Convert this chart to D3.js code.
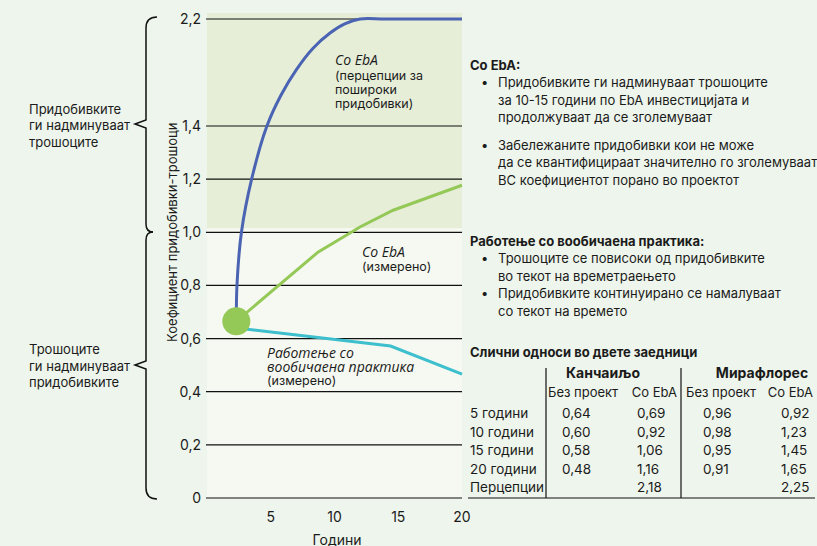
<!DOCTYPE html>
<html>
<head>
<meta charset="utf-8">
<script src="https://cdn.jsdelivr.net/npm/d3@7"></script>
<style>
  body { margin: 0; background: #eef5ec; }
  svg { display: block; font-family: Inter, "Noto Sans", sans-serif; }
  text { fill: #1b1b1b; }
  .it { font-family: "Open Sans", sans-serif; font-style: italic; }
  .b { font-weight: 700; }
</style>
</head>
<body>
<div id="chart"></div>
<script>
// data
var yTicks = [0, 0.2, 0.4, 0.6, 0.8, 1.0, 1.2, 1.4, 2.2];
var xTicks = [5, 10, 15, 20];

var startYear = 2.3, startRatio = 0.665;

var perceivedYears = [2.3, 2.35, 2.7, 3.5, 4.7, 5.8, 7.0, 8.3, 9.65, 10.8, 12, 14, 20];
var perceivedRatio = [0.67, 0.8, 1.0, 1.2, 1.4, 1.63, 1.82, 1.98, 2.095, 2.163, 2.2, 2.2, 2.2];

var measuredYears = [2.3, 8.7, 12, 14.6, 20];
var measuredRatio = [0.665, 0.925, 1.02, 1.083, 1.177];

var bauYears = [2.3, 14.4, 20];
var bauRatio = [0.64, 0.572, 0.466];

var tableRows = ["5 години", "10 години", "15 години", "20 години", "Перцепции"];
var kanchNoProject = ["0,64", "0,60", "0,58", "0,48", ""];
var kanchEba = ["0,69", "0,92", "1,06", "1,16", "2,18"];
var miraNoProject = ["0,96", "0,98", "0,95", "0,91", ""];
var miraEba = ["0,92", "1,23", "1,45", "1,65", "2,25"];

var ebaNotes = [
  ["Придобивките ги надминуваат трошоците", "за 10-15 години по EbA инвестицијата и", "продолжуваат да се зголемуваат"],
  ["Забележаните придобивки кои не може", "да се квантифицираат значително го зголемуваат", "BC коефициентот порано во проектот"]
];
var bauNotes = [
  ["Трошоците се повисоки од придобивките", "во текот на времетраењето"],
  ["Придобивките континуирано се намалуваат", "со текот на времето"]
];

var width = 817, height = 546;

var svg = d3.select("#chart").append("svg")
    .attr("width", width)
    .attr("height", height);

// broken y axis: 0-1.4 linear, then 1.4-2.2 squeezed
var y = d3.scaleLinear().domain([0, 1.4, 2.2]).range([498, 126, 19]);
var x = d3.scaleLinear().domain([0, 20]).range([207, 462]);

var fmt = function(d) { return d === 0 ? "0" : d3.format(".1f")(d).replace(".", ","); };

// background bands
svg.append("rect")
    .attr("x", x(0)).attr("y", 13)
    .attr("width", x(20) - x(0)).attr("height", y(1.0) - 4 - 13)
    .style("fill", "#e6eed8");
svg.append("rect")
    .attr("x", x(0)).attr("y", y(1.0) - 4)
    .attr("width", x(20) - x(0)).attr("height", y(0) - y(1.0) + 4)
    .style("fill", "#f6f9f1");

// grid
svg.selectAll(".grid")
    .data(yTicks)
    .enter().append("line")
    .attr("class", "grid")
    .attr("x1", x(0) - 1).attr("x2", x(20))
    .attr("y1", function(d) { return y(d); })
    .attr("y2", function(d) { return y(d); })
    .style("stroke", "#111").style("stroke-width", 1.2);

svg.selectAll(".yLabel")
    .data(yTicks)
    .enter().append("text")
    .attr("class", "yLabel")
    .attr("x", 201)
    .attr("y", function(d) { return y(d); })
    .attr("dy", "0.36em")
    .style("text-anchor", "end")
    .style("font-size", "14px")
    .text(fmt);

svg.selectAll(".xLabel")
    .data(xTicks)
    .enter().append("text")
    .attr("class", "xLabel")
    .attr("x", function(d) { return x(d); })
    .attr("y", 522)
    .style("text-anchor", "middle")
    .style("font-size", "14px")
    .text(function(d) { return d; });

svg.append("text")
    .attr("x", 337).attr("y", 545)
    .style("text-anchor", "middle")
    .style("font-size", "14px")
    .text("Години");

svg.append("text")
    .attr("transform", "translate(172," + y(1.0) + ") rotate(-90)")
    .attr("dy", "0.36em")
    .style("text-anchor", "middle")
    .style("font-size", "13px")
    .text("Коефициент придобивки-трошоци");

// braces
var braces = [
  "M157,17 Q146,17 146,28 L146,120 L135,124 L146,128 L146,224 Q146,232 153,232",
  "M153,232 Q146,232 146,240 L146,361 L135,365 L146,369 L146,488 Q146,499 157,499"
];
svg.selectAll(".brace")
    .data(braces)
    .enter().append("path")
    .attr("d", function(d) { return d; })
    .style("fill", "none").style("stroke", "#111").style("stroke-width", 1.5);

function lines(g, arr, x0, y0, step, cls, size) {
  g.selectAll(null)
      .data(arr)
      .enter().append("text")
      .attr("class", cls || null)
      .attr("x", x0)
      .attr("y", function(d, i) { return y0 + i * step; })
      .style("font-size", size || "13px")
      .text(function(d) { return d; });
}

lines(svg, ["Придобивките", "ги надминуваат", "трошоците"], 29, 113.5, 16.5);
lines(svg, ["Трошоците", "ги надминуваат", "придобивките"], 29, 354, 16.5);

// series
var line = d3.line()
    .x(function(d) { return x(d[0]); })
    .y(function(d) { return y(d[1]); });

var perceived = d3.zip(perceivedYears, perceivedRatio);
var measured = d3.zip(measuredYears, measuredRatio);
var bau = d3.zip(bauYears, bauRatio);

svg.append("path")
    .attr("d", line.curve(d3.curveCatmullRom.alpha(0.5))(perceived))
    .style("fill", "none").style("stroke", "#4a63b3").style("stroke-width", 3);

svg.append("path")
    .attr("d", line.curve(d3.curveLinear)(measured))
    .style("fill", "none").style("stroke", "#94c857").style("stroke-width", 3);

svg.append("path")
    .attr("d", line.curve(d3.curveLinear)(bau))
    .style("fill", "none").style("stroke", "#3dbfcd").style("stroke-width", 3);

svg.append("circle")
    .attr("cx", x(startYear)).attr("cy", y(startRatio))
    .attr("r", 14)
    .style("fill", "#94c857");

// annotations in the plot
svg.append("text").attr("class", "it").attr("x", 335).attr("y", 65)
    .style("font-size", "14px").text("Со EbA");
lines(svg, ["(перцепции за", "пошироки", "придобивки)"], 335, 80, 14, null, "12.5px");

svg.append("text").attr("class", "it").attr("x", 362).attr("y", 257)
    .style("font-size", "14px").text("Со EbA");
lines(svg, ["(измерено)"], 362, 271, 14, null, "12.5px");

lines(svg, ["Работење со", "вообичаена практика"], 267, 358, 13.5, "it", "14px");
lines(svg, ["(измерено)"], 267, 385, 14, null, "12.5px");

// right-hand notes
svg.append("text").attr("class", "b").attr("x", 470).attr("y", 70)
    .style("font-size", "13px").text("Со EbA:");

function bullets(groups, y0, gap) {
  var yy = y0;
  groups.forEach(function(g) {
    svg.append("text").attr("x", 481).attr("y", yy).style("font-size", "13px").text("•");
    lines(svg, g, 498, yy, 17.5);
    yy += g.length * 17.5 + gap;
  });
}
bullets(ebaNotes, 87, 10);

svg.append("text").attr("class", "b").attr("x", 470).attr("y", 246)
    .style("font-size", "13px").text("Работење со вообичаена практика:");
bullets(bauNotes, 263, 0);

// table
svg.append("text").attr("class", "b").attr("x", 470).attr("y", 357)
    .style("font-size", "13px").text("Слични односи во двете заедници");

svg.append("text").attr("class", "b").attr("x", 603).attr("y", 378)
    .style("text-anchor", "middle").style("font-size", "14px").text("Канчаиљо");
svg.append("text").attr("class", "b").attr("x", 762).attr("y", 378)
    .style("text-anchor", "middle").style("font-size", "14px").text("Мирафлорес");

svg.append("text").attr("x", 548).attr("y", 397).style("font-size", "13px").text("Без проект");
svg.append("text").attr("x", 677).attr("y", 397).style("text-anchor", "end").style("font-size", "13px").text("Со EbA");
svg.append("text").attr("x", 686).attr("y", 397).style("font-size", "13px").text("Без проект");
svg.append("text").attr("x", 813).attr("y", 397).style("text-anchor", "end").style("font-size", "13px").text("Со EbA");

[546, 681].forEach(function(vx) {
  svg.append("line")
      .attr("x1", vx).attr("x2", vx).attr("y1", 368).attr("y2", 498)
      .style("stroke", "#111").style("stroke-width", 1.2);
});
svg.append("line")
    .attr("x1", 468).attr("x2", 815).attr("y1", 498).attr("y2", 498)
    .style("stroke", "#111").style("stroke-width", 1.2);

var rowY = function(i) { return 418 + i * 18.6; };
var cols = [
  { vals: kanchNoProject, x: 562 },
  { vals: kanchEba, x: 637 },
  { vals: miraNoProject, x: 703 },
  { vals: miraEba, x: 781 }
];

svg.selectAll(".rowLabel")
    .data(tableRows)
    .enter().append("text")
    .attr("class", "rowLabel")
    .attr("x", 470)
    .attr("y", function(d, i) { return rowY(i); })
    .style("font-size", "13.5px")
    .text(function(d) { return d; });

cols.forEach(function(c) {
  svg.selectAll(null)
      .data(c.vals)
      .enter().append("text")
      .attr("x", c.x)
      .attr("y", function(d, i) { return rowY(i); })
      .style("font-size", "13.5px")
      .text(function(d) { return d; });
});
</script>
</body>
</html>
